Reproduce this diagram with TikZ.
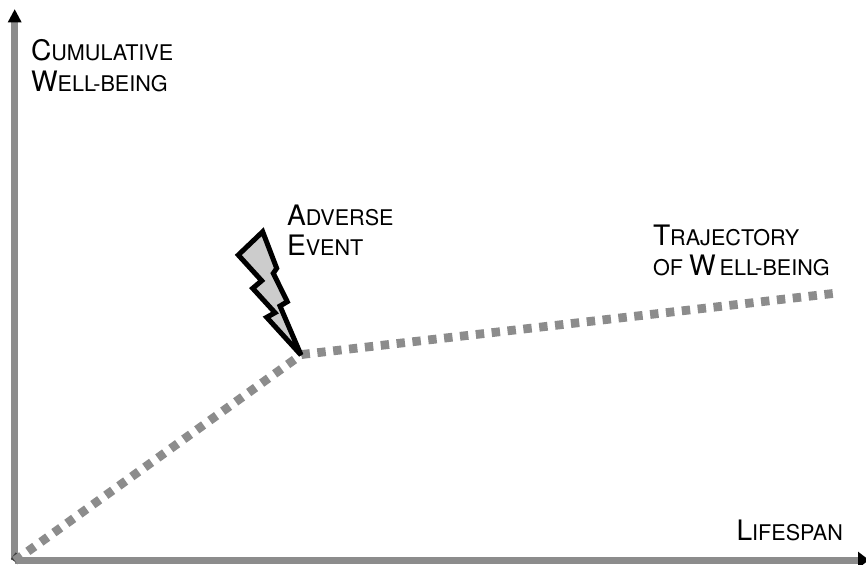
\documentclass[tikz,border=0pt]{standalone}
\usepackage{fontspec}
\setmainfont{TeX Gyre Heros}
\usetikzlibrary{arrows.meta}
\newcommand{\scp}[2]{{\fontsize{28.2}{28}\selectfont #1}{\fontsize{21.6}{28}\selectfont #2}}
\definecolor{axisgray}{HTML}{8C8C8C}
\definecolor{boltgray}{HTML}{CCCCCC}
\tikzset{
  axisline/.style={draw=axisgray,line width=7pt},
  ytipstyle/.style={-{Triangle[length=13.5pt,width=13pt,black,sep=0pt]}},
  xtipstyle/.style={-{Triangle[length=11pt,width=16pt,black,sep=0pt]}},
  traj/.style={draw=axisgray,line width=8.8pt},
  bolt/.style={draw=black,fill=boltgray,line width=5pt,line join=miter,miter limit=4},
  lbl/.style={inner sep=0pt,outer sep=0pt,anchor=base west,align=left,text=black}
}
\begin{document}
\begin{tikzpicture}[x=1pt,y=-1pt]
\clip (0,0) rectangle (866,564);
\fill[white] (0,0) rectangle (866,564);
\coordinate (origin) at (14.7,560);
\coordinate (ytip) at (14.7,9);
\coordinate (xtip) at (869,560);
\coordinate (start) at (11,563.5);
\coordinate (kink) at (301.5,354.5);
\coordinate (end) at (833,293.5);
\path[axisline,ytipstyle] (origin) -- (ytip);
\path[axisline,xtipstyle] (origin) -- (xtip);
\path[fill=black!75,rotate around={-36:(16.5,558)}] (12.5,554) rectangle (20.5,562);
\path[traj,dash pattern=on 8.4pt off 7.6pt,dash phase=11.2pt] (start) -- (kink);
\path[traj,dash pattern=on 8.4pt off 7.55pt] (kink) -- (end);
\path[bolt] (301,355) -- (266.7,317.3) -- (275,312.7) -- (252.7,288.3) -- (261.7,280.7) -- (238.3,255) -- (262.7,231.7) -- (276.7,268.3) -- (273.3,273.3) -- (287.3,301.7) -- (280,306) -- cycle;
\node[lbl] (ylabel1) at (31,61) {\scp{C}{UMULATIVE}};
\node[lbl] (ylabel2) at (31,92) {\scp{W}{ELL-BEING}};
\node[lbl] (event1) at (287,225) {\scp{A}{DVERSE}};
\node[lbl] (event2) at (287,255) {\scp{E}{VENT}};
\node[lbl] (traj1) at (653,245) {\scp{T}{RAJECTORY}};
\node[lbl] (traj2) at (653,275) {{\fontsize{21.6}{28}\selectfont OF }\scp{W\kern4pt}{ELL-BEING}};
\node[lbl] (xlabel) at (736.5,540) {\scp{L}{IFESPAN}};
\end{tikzpicture}
\end{document}
